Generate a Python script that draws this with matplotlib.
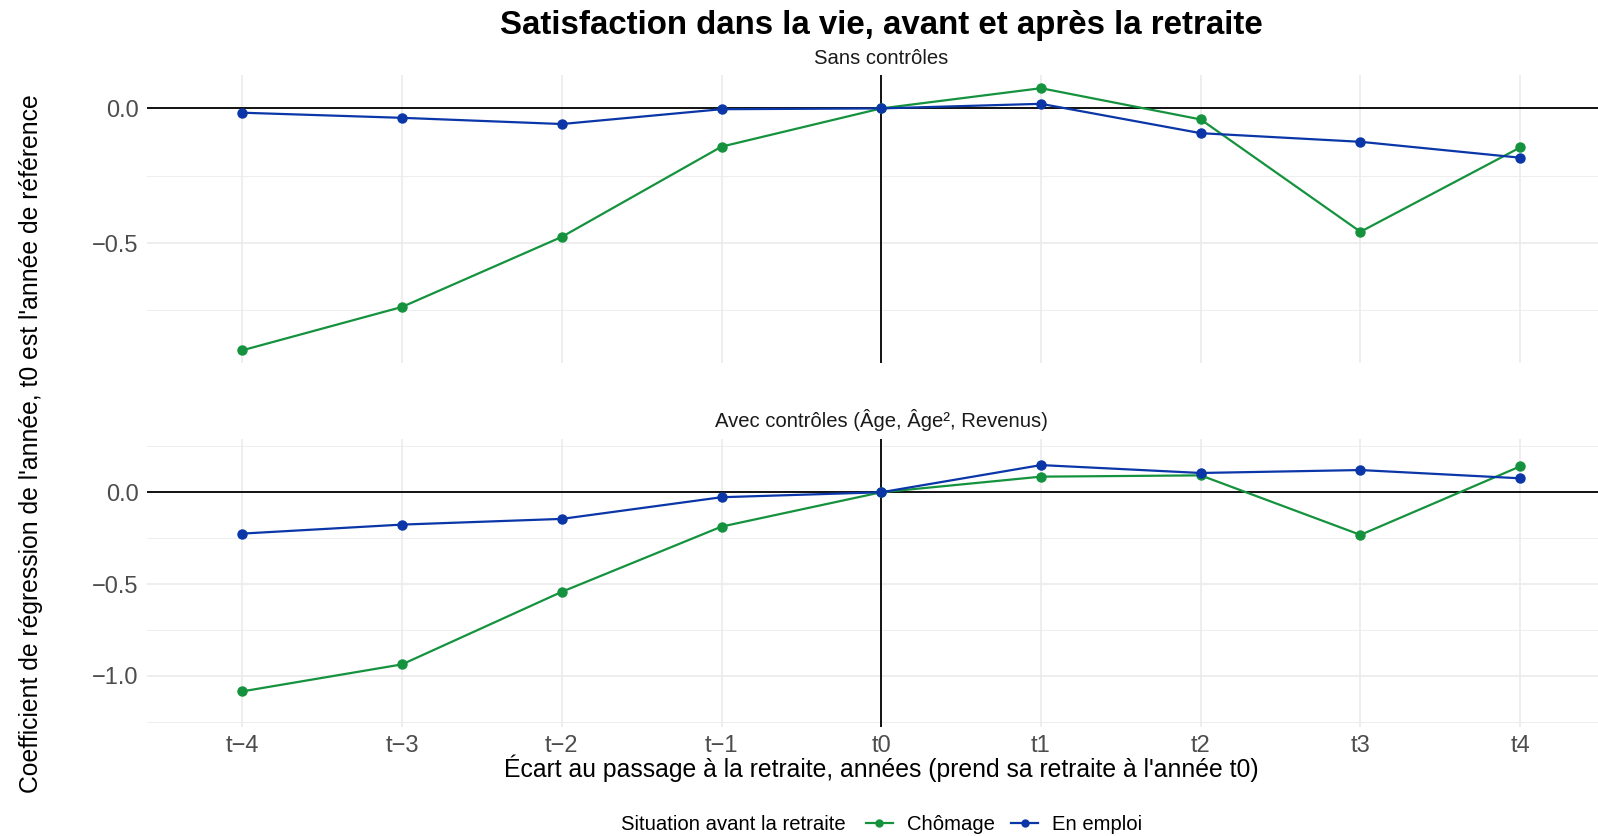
import matplotlib
matplotlib.use("Agg")
import matplotlib.pyplot as plt
from matplotlib.lines import Line2D

plt.rcParams['font.family'] = ['Liberation Sans', 'DejaVu Sans']

# Data
periods = ['t−4', 't−3', 't−2', 't−1', 't0', 't1', 't2', 't3', 't4']
sans_chomage = [-0.898, -0.737, -0.477, -0.142, 0.0, 0.075, -0.041, -0.458, -0.145]
sans_emploi = [-0.016, -0.035, -0.058, -0.003, 0.0, 0.017, -0.092, -0.124, -0.183]
avec_chomage = [-1.084, -0.937, -0.542, -0.187, 0.0, 0.085, 0.092, -0.232, 0.141]
avec_emploi = [-0.225, -0.176, -0.145, -0.027, 0.0, 0.148, 0.105, 0.121, 0.076]

sans_major = [0.0, -0.5]
sans_minor = [-0.25, -0.75]
avec_major = [0.0, -0.5, -1.0]
avec_minor = [0.25, -0.25, -0.75, -1.25]

GREEN = '#15923E'
BLUE = '#0A36A8'
GRID = '#EBEBEB'

W, H = 1598, 836
fig = plt.figure(figsize=(W / 100, H / 100), dpi=100)


def px_axes(left, top, right, bottom):
    return fig.add_axes([left / W, 1 - bottom / H, (right - left) / W, (bottom - top) / H])


def fmt(v):
    return f"{v:.1f}".replace('-', '−')


def draw_panel(ax, chom, empl, ylim, major, minor, show_x):
    x = list(range(len(periods)))
    ax.set_xlim(-0.6, len(periods) - 1 + 0.6)
    ax.set_ylim(*ylim)
    for v in minor:
        ax.axhline(v, color=GRID, lw=0.6, zorder=0)
    for v in major:
        ax.axhline(v, color=GRID, lw=1.2, zorder=0)
    for xi in x:
        ax.axvline(xi, color=GRID, lw=1.2, zorder=0)
    ax.axhline(0, color='black', lw=1.3, zorder=1)
    ax.axvline(periods.index('t0'), color='black', lw=1.3, zorder=1)
    ax.plot(x, chom, color=GREEN, lw=1.6, marker='o', ms=6.5, zorder=2)
    ax.plot(x, empl, color=BLUE, lw=1.6, marker='o', ms=6.5, zorder=3)
    ax.set_yticks(major)
    ax.set_yticklabels([fmt(v) for v in major])
    ax.set_xticks(x)
    if show_x:
        ax.set_xticklabels(periods)
    else:
        ax.set_xticklabels([])
    ax.tick_params(axis='both', length=0, labelsize=17, labelcolor='#4D4D4D')
    ax.tick_params(axis='y', pad=5.7)
    ax.tick_params(axis='x', pad=5.5)
    for s in ax.spines.values():
        s.set_visible(False)


ax1 = px_axes(146.5, 75, 1616, 363.5)
draw_panel(ax1, sans_chomage, sans_emploi, (-0.947, 0.124), sans_major, sans_minor, False)

ax2 = px_axes(146.5, 439, 1616, 727)
draw_panel(ax2, avec_chomage, avec_emploi, (-1.278, 0.290), avec_major, avec_minor, True)

cx = 881 / W
fig.text(cx, 1 - 34.3 / H, "Satisfaction dans la vie, avant et après la retraite",
         ha='center', va='baseline', fontsize=23.8, fontweight='bold')
fig.text(cx, 1 - 63.5 / H, "Sans contrôles", ha='center', va='baseline',
         fontsize=14.6, color='#1A1A1A')
fig.text(cx, 1 - 427 / H, "Avec contrôles (Âge, Âge², Revenus)", ha='center', va='baseline',
         fontsize=14.6, color='#1A1A1A')
fig.text(cx, 1 - 777 / H, "Écart au passage à la retraite, années (prend sa retraite à l'année t0)",
         ha='center', va='baseline', fontsize=17.8)
fig.text(31.5 / W, 1 - 443.5 / H, "Coefficient de régression de l'année, t0 est l'année de référence",
         ha='center', va='center', rotation=90, fontsize=17.8)

# Legend
fig.text(621 / W, 1 - 830 / H, "Situation avant la retraite", ha='left', va='baseline', fontsize=14.6)
handles = [Line2D([], [], color=GREEN, lw=1.6, marker='o', ms=5),
           Line2D([], [], color=BLUE, lw=1.6, marker='o', ms=5)]
fig.legend(handles, ['Chômage', 'En emploi'], loc='center left',
           bbox_to_anchor=(866 / W, 1 - 824.8 / H), ncol=2, frameon=False,
           borderpad=0, borderaxespad=0, handlelength=1.33, handletextpad=0.7,
           columnspacing=0.8, fontsize=14.6)

fig.savefig('out.png', dpi=100)
